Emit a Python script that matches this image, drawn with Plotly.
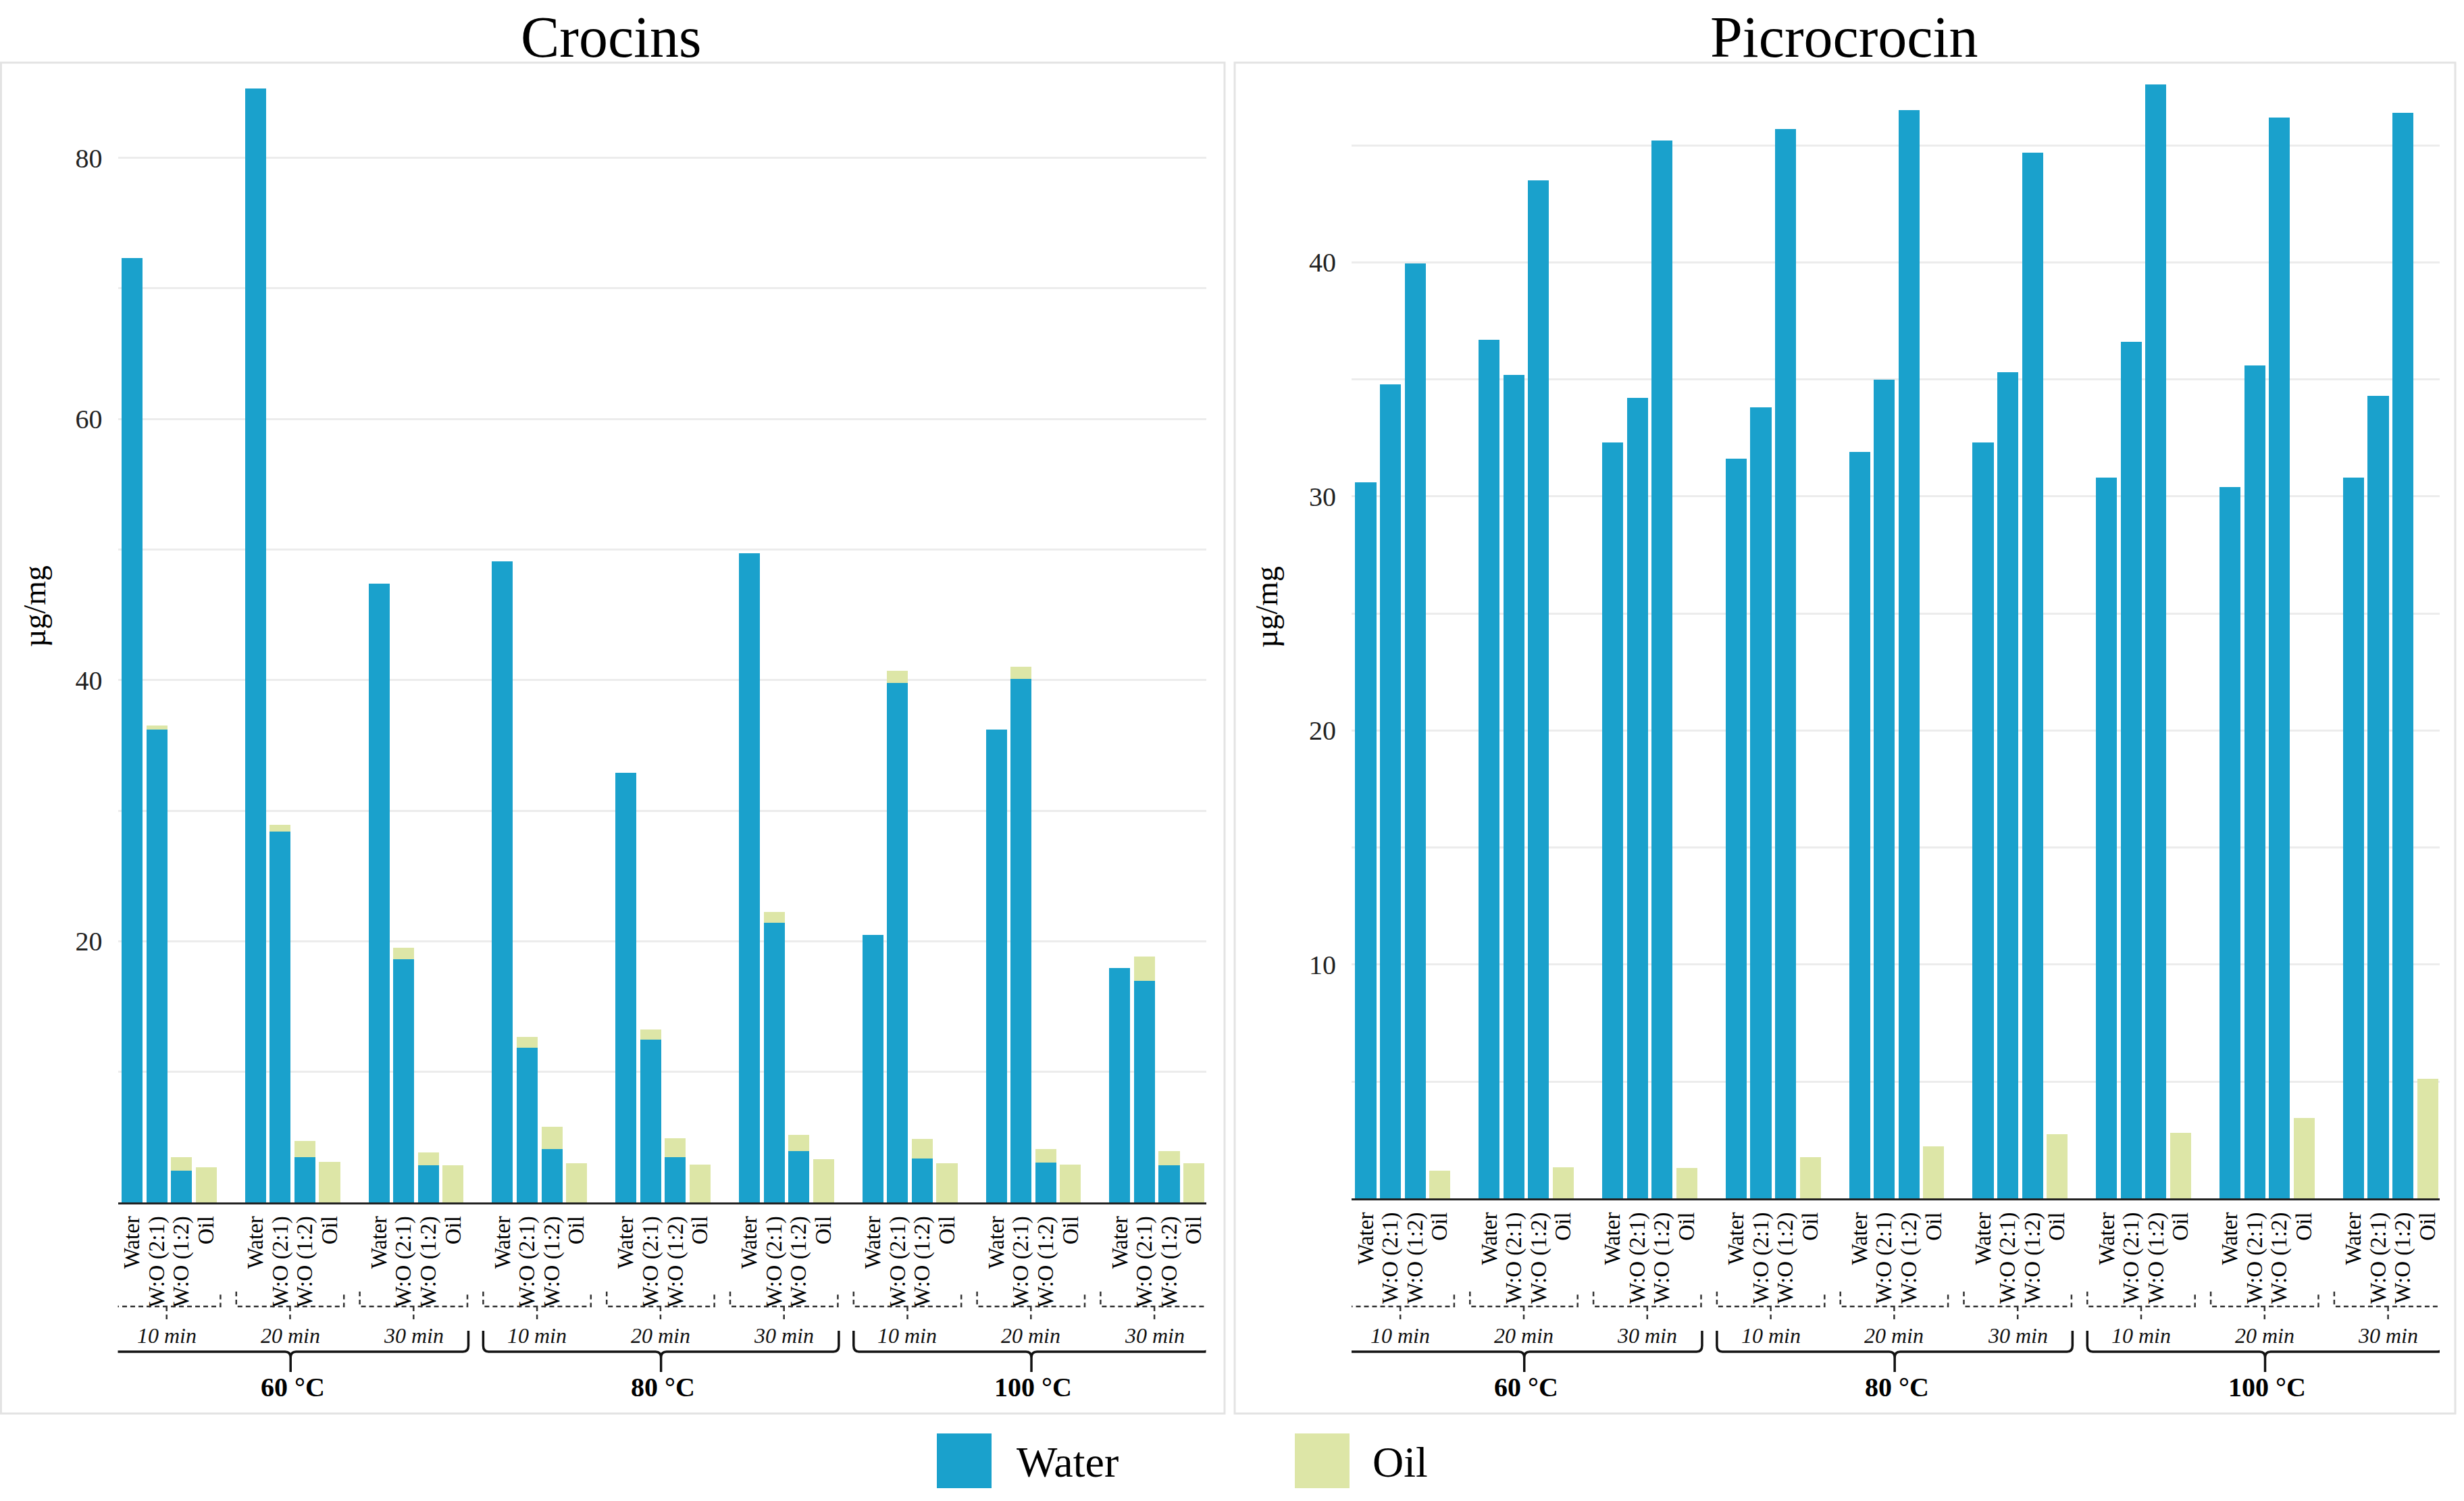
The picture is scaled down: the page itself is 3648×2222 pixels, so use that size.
import plotly.graph_objects as go

W, H = 3648, 2222

samples = ["Water", "W:O (2:1)", "W:O (1:2)", "Oil"]
times = ["10 min", "20 min", "30 min"]
temps = ["60 °C", "80 °C", "100 °C"]

# Crocins (µg/mg): water-phase part and oil-phase part, order temp -> time -> sample
crocins_water = [72.3, 36.2, 2.42, 0,
                 85.3, 28.4, 3.45, 0,
                 47.4, 18.6, 2.82, 0,
                 49.1, 11.84, 4.11, 0,
                 32.9, 12.46, 3.45, 0,
                 49.7, 21.4, 3.92, 0,
                 20.5, 39.8, 3.37, 0,
                 36.2, 40.1, 3.04, 0,
                 17.96, 16.97, 2.82, 0]
crocins_oil = [0, 0.3, 1.03, 2.67,
               0, 0.5, 1.28, 3.11,
               0, 0.9, 0.99, 2.86,
               0, 0.84, 1.68, 3.0,
               0, 0.77, 1.46, 2.9,
               0, 0.85, 1.25, 3.3,
               0, 0.9, 1.47, 3.0,
               0, 0.9, 1.03, 2.9,
               0, 1.88, 1.10, 3.0]

# Picrocrocin (µg/mg)
picro_water = [30.6, 34.8, 39.95, 0,
               36.7, 35.2, 43.5, 0,
               32.3, 34.2, 45.2, 0,
               31.6, 33.8, 45.7, 0,
               31.9, 35.0, 46.5, 0,
               32.3, 35.3, 44.7, 0,
               30.8, 36.6, 47.6, 0,
               30.4, 35.6, 46.2, 0,
               30.8, 34.3, 46.4, 0]
picro_oil = [0, 0, 0, 1.19,
             0, 0, 0, 1.33,
             0, 0, 0, 1.31,
             0, 0, 0, 1.78,
             0, 0, 0, 2.23,
             0, 0, 0, 2.74,
             0, 0, 0, 2.80,
             0, 0, 0, 3.44,
             0, 0, 0, 5.11]

crocins_ticks = [0, 10, 20, 30, 40, 50, 60, 70, 80]
crocins_ticktext = ["", "", "20", "", "40", "", "60", "", "80"]
picro_ticks = [0, 5, 10, 15, 20, 25, 30, 35, 40, 45]
picro_ticktext = ["", "", "10", "", "20", "", "30", "", "40", ""]

BLUE = "#1aa1cc"
GREEN = "#dde6a7"
FONT = "Liberation Serif, Times New Roman, serif"


def fx(p):
    return p / W


def fy(p):
    return 1 - p / H


# positions: 4 bars per time group, one empty slot between groups
positions, labels = [], []
for ti in range(len(temps)):
    for mi in range(len(times)):
        for si, s in enumerate(samples):
            positions.append((ti * len(times) + mi) * (len(samples) + 1) + si)
            labels.append(s)

fig = go.Figure()
panels = [
    ("x", "y", crocins_water, crocins_oil),
    ("x2", "y2", picro_water, picro_oil),
]
for xa, ya, wv, ov in panels:
    fig.add_trace(go.Bar(x=positions, y=wv, name="Water", marker=dict(color=BLUE, line=dict(width=0)),
                         xaxis=xa, yaxis=ya, showlegend=False))
    fig.add_trace(go.Bar(x=positions, y=ov, name="Oil", marker=dict(color=GREEN, line=dict(width=0)),
                         xaxis=xa, yaxis=ya, showlegend=False))

xr = [-0.575, 43.49]
common_x = dict(range=xr, tickmode="array", tickvals=positions, ticktext=labels, tickangle=-90,
                tickfont=dict(family=FONT, size=33, color="#000"), showgrid=False, zeroline=False,
                showline=True, linecolor="#222", linewidth=3, ticks="", ticklabelstandoff=4, fixedrange=True)
common_y = dict(showgrid=True, gridcolor="#ececec", gridwidth=3, zeroline=False, showline=False,
                ticks="", tickfont=dict(family=FONT, size=40, color="#222"), ticklabelstandoff=22)

fig.update_layout(
    width=W, height=H, autosize=False,
    margin=dict(l=0, r=0, t=0, b=0),
    paper_bgcolor="white", plot_bgcolor="white",
    barmode="stack", bargap=0.15,
    font=dict(family=FONT, color="#111"),
    xaxis=dict(domain=[fx(174.5), fx(1785.5)], anchor="y", **common_x),
    yaxis=dict(domain=[fy(1780), fy(92.8)], range=[0, 87.28], tickvals=crocins_ticks,
               ticktext=crocins_ticktext, anchor="x", **common_y),
    xaxis2=dict(domain=[fx(2001), fx(3612)], anchor="y2", **common_x),
    yaxis2=dict(domain=[fy(1774.4), fy(92.8)], range=[0, 48.53], tickvals=picro_ticks,
                ticktext=picro_ticktext, anchor="x2", **common_y),
)

shapes = []
annotations = []

# panel borders
for x0, x1 in [(1.5, 1813), (1828, 3635)]:
    shapes.append(dict(type="rect", xref="paper", yref="paper", x0=fx(x0), x1=fx(x1),
                       y0=fy(2092.6), y1=fy(92.8), line=dict(color="#e3e3e3", width=3),
                       fillcolor="rgba(0,0,0,0)", layer="below"))

# panel titles and y-axis titles
for cx, title, ytx in [(905, "Crocins", 51), (2730, "Picrocrocin", 1875)]:
    annotations.append(dict(text=title, xref="paper", yref="paper", x=fx(cx), y=fy(55),
                            xanchor="center", yanchor="middle", showarrow=False,
                            font=dict(family=FONT, size=86, color="#000")))
    annotations.append(dict(text="µg/mg", xref="paper", yref="paper", x=fx(ytx), y=fy(898),
                            xanchor="center", yanchor="middle", showarrow=False, textangle=-90,
                            font=dict(family=FONT, size=46, color="#000")))

# group brackets and labels
slot = len(samples) + 1
yTopD, yLineD, yTickD = fy(1912), fy(1934), fy(1955)
yTopB, yCurl, yLineB, yCurl2, yPeak = fy(1970), fy(1992), fy(2001), fy(2010), fy(2031)
for xa in ["x", "x2"]:
    for ti in range(len(temps)):
        for mi in range(len(times)):
            g = ti * len(times) + mi
            c = g * slot + (len(samples) - 1) / 2 - 0.1
            hw = 2.18
            shapes.append(dict(type="path", xref=xa, yref="paper",
                               path=f"M {c-hw},{yTopD} L {c-hw},{yLineD} L {c+hw},{yLineD} L {c+hw},{yTopD} "
                                    f"M {c},{yLineD} L {c},{yTickD}",
                               line=dict(color="#333", width=2.5, dash="7px,5px")))
            annotations.append(dict(text=f"<i>{times[mi]}</i>", xref=xa, yref="paper", x=c, y=fy(1977),
                                    xanchor="center", yanchor="middle", showarrow=False,
                                    font=dict(family=FONT, size=32, color="#111")))
        cb = (ti * len(times) + 1) * slot + (len(samples) - 1) / 2 - 0.08
        hb = 7.2
        r = 0.22
        xl, xrt = cb - hb, cb + hb
        path = (f"M {xl},{yTopB} L {xl},{yCurl} Q {xl},{yLineB} {xl+r},{yLineB} "
                f"L {cb-r},{yLineB} Q {cb},{yLineB} {cb},{yCurl2} L {cb},{yPeak} "
                f"M {cb},{yCurl2} Q {cb},{yLineB} {cb+r},{yLineB} "
                f"L {xrt-r},{yLineB} Q {xrt},{yLineB} {xrt},{yCurl} L {xrt},{yTopB}")
        shapes.append(dict(type="path", xref=xa, yref="paper", path=path,
                           line=dict(color="#111", width=3.5)))
        annotations.append(dict(text=f"<b>{temps[ti]}</b>", xref=xa, yref="paper", x=cb + 0.08, y=fy(2053),
                                xanchor="center", yanchor="middle", showarrow=False,
                                font=dict(family=FONT, size=40, color="#000")))

# legend (drawn manually to match large square swatches)
for sx, tx, name, col in [(1387, 1503, "Water", BLUE), (1917, 2030, "Oil", GREEN)]:
    shapes.append(dict(type="rect", xref="paper", yref="paper", x0=fx(sx), x1=fx(sx + 81),
                       y0=fy(2203), y1=fy(2122), fillcolor=col, line=dict(width=0)))
    annotations.append(dict(text=name, xref="paper", yref="paper", x=fx(tx), y=fy(2164),
                            xanchor="left", yanchor="middle", showarrow=False,
                            font=dict(family=FONT, size=64, color="#000")))

fig.update_layout(shapes=shapes, annotations=annotations)
fig.write_html("out.html", config={"displayModeBar": False},
               post_script="document.body.style.margin='0px';document.body.style.overflow='hidden';")
